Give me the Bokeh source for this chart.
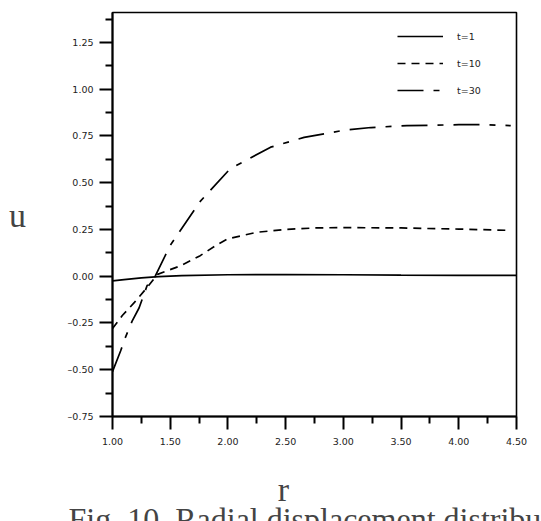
from bokeh.plotting import figure
from bokeh.models import (FixedTicker, CustomJSTickFormatter, Legend, LegendItem,
                          Label, Range1d)
from bokeh.embed import file_html
from bokeh.resources import INLINE

# radial coordinate and displacement for three times
r_t1 = [1.00, 1.10, 1.25, 1.40, 1.60, 2.00, 2.50, 3.00, 3.50, 4.00, 4.50]
u_t1 = [-0.025, -0.018, -0.009, -0.002, 0.003, 0.008, 0.009, 0.008, 0.006, 0.005, 0.004]

r_t10 = [1.00, 1.085, 1.19, 1.30, 1.39, 1.59, 1.76, 1.91, 2.00, 2.25, 2.50, 2.75, 3.00, 3.50, 4.00, 4.45]
u_t10 = [-0.28, -0.21, -0.14, -0.06, 0.01, 0.056, 0.11, 0.17, 0.20, 0.235, 0.25, 0.258, 0.26, 0.258, 0.252, 0.245]

r_t30 = [1.00, 1.07, 1.11, 1.17, 1.23, 1.30, 1.37, 1.50, 1.76, 2.02, 2.37, 2.66, 3.00, 3.24, 3.55, 4.00, 4.25, 4.45]
u_t30 = [-0.51, -0.40, -0.33, -0.24, -0.17, -0.05, 0.0, 0.165, 0.40, 0.575, 0.69, 0.742, 0.78, 0.795, 0.805, 0.81, 0.81, 0.805]

series_labels = ["t=1", "t=10", "t=30"]

x_major = [1.0, 1.5, 2.0, 2.5, 3.0, 3.5, 4.0, 4.5]
x_minor = [1.25, 1.75, 2.25, 2.75, 3.25, 3.75, 4.25]
y_major = [-0.75, -0.5, -0.25, 0.0, 0.25, 0.5, 0.75, 1.0, 1.25]
y_minor = [-0.625, -0.375, -0.125, 0.125, 0.375, 0.625, 0.875, 1.125, 1.375]

p = figure(frame_width=404, frame_height=404,
           x_range=Range1d(1.0, 4.5), y_range=Range1d(-0.75, 1.41),
           output_backend="svg", toolbar_location=None,
           min_border_left=112, min_border_right=25,
           min_border_top=12, min_border_bottom=105)
p.grid.visible = False
p.outline_line_color = "black"
p.outline_line_width = 1.6
p.background_fill_color = "white"
p.border_fill_color = "white"

# two decimals, negative values with a dash
fmt = CustomJSTickFormatter(code="return tick.toFixed(2).replace('-', '\u2013');")

for ax, major, minor in ((p.xaxis, x_major, x_minor), (p.yaxis, y_major, y_minor)):
    ax.ticker = FixedTicker(ticks=major, minor_ticks=minor)
    ax.formatter = fmt
    ax.axis_line_width = 2
    ax.axis_line_color = "black"
    ax.major_tick_in = 0
    ax.major_tick_out = 13
    ax.minor_tick_in = 0
    ax.minor_tick_out = 7
    ax.major_tick_line_width = 2
    ax.minor_tick_line_width = 2
    ax.major_tick_line_color = "black"
    ax.minor_tick_line_color = "black"
    ax.major_label_text_font = "DejaVu Sans"
    ax.major_label_text_font_size = "9.5px"
    ax.major_label_text_color = "#222222"

p.yaxis.major_label_standoff = 6
p.xaxis.major_label_standoff = 8

l1 = p.line(r_t1, u_t1, line_color="black", line_width=1.7)
l2 = p.line(r_t10, u_t10, line_color="black", line_width=1.7, line_dash="8 6")
l3 = p.line(r_t30, u_t30, line_color="black", line_width=1.7, line_dash="26 10 6 10")

legend = Legend(items=[LegendItem(label=series_labels[0], renderers=[l1]),
                       LegendItem(label=series_labels[1], renderers=[l2]),
                       LegendItem(label=series_labels[2], renderers=[l3])],
                location=(285, 316), border_line_color=None,
                background_fill_alpha=0, glyph_width=46, glyph_height=20,
                label_height=20, label_standoff=14, spacing=7, padding=0, margin=0,
                label_text_font="DejaVu Sans", label_text_font_size="9.5px",
                label_text_color="#222222")
p.add_layout(legend)

# axis names and caption sit in the side panels, positioned within them
serif = "Liberation Serif"
p.add_layout(Label(x=-30, y=201, x_units="screen", y_units="screen", text="u",
                   text_font=serif, text_font_size="34px", text_align="center",
                   text_baseline="alphabetic"), "left")
p.add_layout(Label(x=171, y=-5, x_units="screen", y_units="screen", text="r",
                   text_font=serif, text_font_size="34px", text_align="center",
                   text_baseline="alphabetic"), "below")
p.add_layout(Label(x=-44, y=2, x_units="screen", y_units="screen",
                   text="Fig. 10. Radial displacement distribution",
                   text_font=serif, text_font_size="32px", text_align="left",
                   text_baseline="alphabetic"), "below")

open("out.html", "w").write(file_html(p, INLINE))
